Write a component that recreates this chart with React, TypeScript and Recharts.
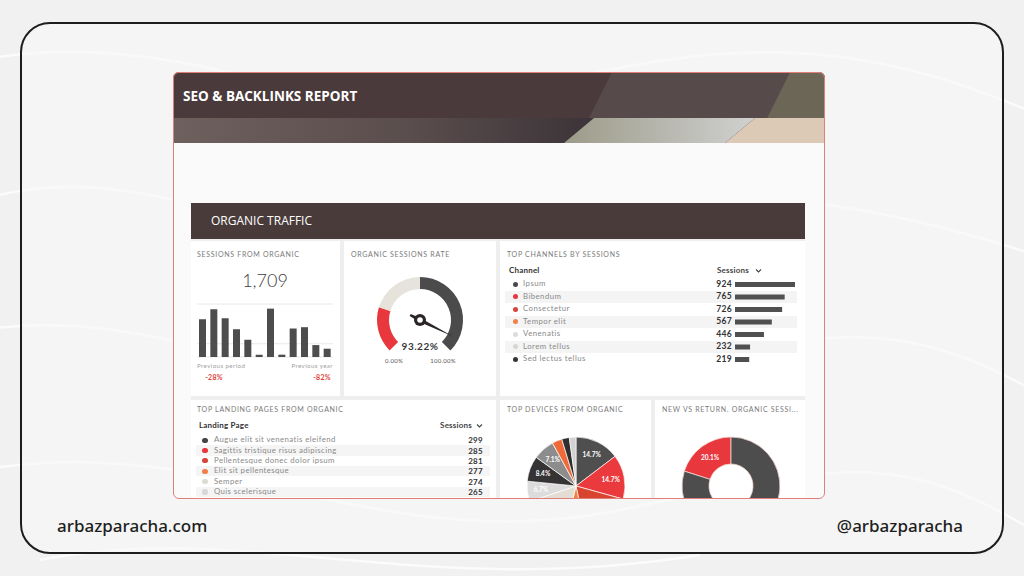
import React from 'react';
import { Bar, BarChart, CartesianGrid, Cell, Pie, PieChart, XAxis, YAxis } from 'recharts';

// sessions from organic, one bar per week
const sessionWeeks = ['W1', 'W2', 'W3', 'W4', 'W5', 'W6', 'W7', 'W8', 'W9', 'W10', 'W11', 'W12'];
const sessionValues = [114, 144, 117, 84, 52, 7, 146, 7, 86, 90, 36, 25];
const sessionTicks = [0, 40, 80, 120, 160];

// gauge
const gaugeBandNames = ['low', 'mid', 'high'];
const gaugeBandValues = [23, 27, 50];
const gaugeBandColors = ['#e8383d', '#e6e2dc', '#4b4b4b'];
const organicRate = 93.22;

// top channels
const channelNames = ['Ipsum', 'Bibendum', 'Consectetur', 'Tempor elit', 'Venenatis', 'Lorem tellus', 'Sed lectus tellus'];
const channelSessions = [924, 765, 726, 567, 446, 232, 219];
const channelColors = ['#4a4a4a', '#e8383d', '#d9443a', '#f08048', '#dcdcdc', '#d6d6d6', '#353535'];

// landing pages
const pageNames = [
  'Augue elit sit venenatis eleifend',
  'Sagittis tristique risus adipiscing',
  'Pellentesque donec dolor ipsum',
  'Elit sit pellentesque',
  'Semper',
  'Quis scelerisque',
];
const pageSessions = [299, 285, 281, 277, 274, 265];
const pageColors = ['#454545', '#e8383d', '#d9443a', '#f08048', '#dcdcd0', '#d8d8d8'];

// devices
const deviceNames = ['Desktop', 'Mobile', 'Tablet', 'Smart TV', 'Console', 'Other A', 'Other B', 'Other C', 'Other D', 'Other E', 'Other F'];
const deviceShares = [14.7, 14.7, 17.5, 7.0, 16.2, 6.7, 8.4, 7.1, 3.3, 2.5, 2.2];
const deviceColors = ['#4f4f4f', '#ea3a3e', '#d9442e', '#f2803a', '#e3ddd3', '#dcdcdc', '#363334', '#8c8c8c', '#ef6a3a', '#2f2f2f', '#d2d2d2'];

// new vs returning
const visitorTypes = ['New', 'Returning'];
const visitorShares = [20.1, 79.9];
const visitorColors = ['#e8383d', '#4d4d4d'];

const RAD = Math.PI / 180;
const FONT = 'Lato, "Open Sans", sans-serif';

type TP = {
  x: number; y: number; size: number; color?: string; weight?: number;
  align?: 'left' | 'right' | 'center'; spacing?: number; font?: string; children: React.ReactNode;
};
function T({ x, y, size, color = '#333', weight = 400, align = 'left', spacing, font = FONT, children }: TP) {
  const s: React.CSSProperties = {
    position: 'absolute', top: y - size, height: size * 2, lineHeight: `${size * 2}px`,
    fontSize: size, color, fontWeight: weight, whiteSpace: 'nowrap', letterSpacing: spacing, fontFamily: font,
  };
  if (align === 'left') s.left = x;
  else if (align === 'right') s.right = 1024 - x;
  else { s.left = x - 200; s.width = 400; s.textAlign = 'center'; }
  return <div style={s}>{children}</div>;
}

const box = (x: number, y: number, w: number, h: number, bg?: string): React.CSSProperties => ({
  position: 'absolute', left: x, top: y, width: w, height: h, background: bg,
});

function Chevron({ x, y }: { x: number; y: number }) {
  return (
    <svg style={box(x, y - 3, 7, 6)} width={7} height={6}>
      <polyline points="1,1.5 3.5,4 6,1.5" fill="none" stroke="#444" strokeWidth={1.1} />
    </svg>
  );
}

const PanelTitle = ({ x, y, children }: { x: number; y: number; children: React.ReactNode }) => (
  <T x={x} y={y} size={7} color="#7a7a7a" spacing={0.7}>{children}</T>
);

const needle = (p: any) => {
  if (p.index !== 0) return null;
  const a = -p.endAngle * RAD;
  const cx = p.cx, cy = p.cy;
  const ux = Math.cos(a), uy = Math.sin(a);
  const nx = -uy, ny = ux;
  const tip = [cx + ux * 37, cy + uy * 37];
  const b1 = [cx + nx * 2, cy + ny * 2];
  const b2 = [cx - nx * 2, cy - ny * 2];
  const t1 = [cx - ux * 11 + nx * 1.1, cy - uy * 11 + ny * 1.1];
  const t2 = [cx - ux * 11 - nx * 1.1, cy - uy * 11 - ny * 1.1];
  return (
    <g>
      <polygon points={`${tip} ${b1} ${t1} ${t2} ${b2}`} fill="#2b2526" />
      <circle cx={cx} cy={cy} r={6} fill="#2b2526" />
      <circle cx={cx} cy={cy} r={2.8} fill="#fff" />
    </g>
  );
};

const sliceLabel = (p: any) => {
  if (p.value < 5) return null;
  const r = p.innerRadius ? (p.innerRadius + p.outerRadius) / 2 : p.outerRadius * 0.72;
  const x = p.cx + r * Math.cos(-p.midAngle * RAD);
  const y = p.cy + r * Math.sin(-p.midAngle * RAD);
  return (
    <text x={x} y={y} fill="#fff" fontSize={6.5} fontWeight={700} fontFamily={FONT} textAnchor="middle" dominantBaseline="central">
      {p.value.toFixed(1)}%
    </text>
  );
};

export default function App() {
  const sessions = sessionWeeks.map((w, i) => ({ week: w, sessions: sessionValues[i] }));
  const bands = gaugeBandNames.map((n, i) => ({ name: n, value: gaugeBandValues[i] }));
  const rate = [{ name: 'rate', value: organicRate }, { name: 'rest', value: 100 - organicRate }];
  const channels = channelNames.map((n, i) => ({ name: n, sessions: channelSessions[i] }));
  const devices = deviceNames.map((n, i) => ({ name: n, value: deviceShares[i] }));
  const visitors = visitorTypes.map((n, i) => ({ name: n, value: visitorShares[i] }));

  const waves = [
    'M -20 60 C 200 20, 320 140, 520 90 S 850 30, 1050 120',
    'M -20 200 C 150 150, 260 260, 430 230 S 760 160, 1050 260',
    'M -20 330 C 180 300, 300 420, 560 380 S 880 300, 1050 400',
    'M -20 470 C 220 430, 380 560, 620 510 S 900 450, 1050 540',
    'M 40 560 C 240 520, 420 600, 700 555',
  ];

  return (
    <div style={{ position: 'absolute', left: 0, top: 0, width: 1024, height: 576, background: '#f1f1f1', overflow: 'hidden', fontFamily: FONT }}>
      <svg style={box(0, 0, 1024, 576)} width={1024} height={576}>
        {waves.map((d, i) => (
          <path key={i} d={d} fill="none" stroke="#fff" strokeWidth={2.5} opacity={0.7} />
        ))}
      </svg>
      <div style={{ ...box(20, 22, 984, 532), border: '2px solid #1d1d1d', borderRadius: 30, boxSizing: 'border-box', background: 'rgba(248,248,248,0.6)' }} />

      {/* dashboard card, clipped */}
      <div style={{ ...box(0, 0, 1024, 576), clipPath: 'inset(72px 199px 77px 173px round 6px)' }}>
        <div style={box(173, 72, 652, 427, '#fafafa')} />
        <svg style={box(0, 0, 1024, 576)} width={1024} height={576}>
          <defs>
            <linearGradient id="strip" x1={173} x2={600} y1={0} y2={0} gradientUnits="userSpaceOnUse">
              <stop offset="0" stopColor="#6e605d" />
              <stop offset="0.55" stopColor="#5a4d4d" />
              <stop offset="1" stopColor="#3b3338" />
            </linearGradient>
            <linearGradient id="light" x1={564} x2={750} y1={0} y2={0} gradientUnits="userSpaceOnUse">
              <stop offset="0" stopColor="#9c9b89" />
              <stop offset="1" stopColor="#cfcfcf" />
            </linearGradient>
          </defs>
          <rect x={173} y={72} width={652} height={46} fill="#4a3a3b" />
          <polygon points="589,118 612,72 790,72 767,118" fill="#564a4b" />
          <polygon points="767,118 790,72 825,72 825,118" fill="#6c6657" />
          <rect x={173} y={118} width={652} height={25} fill="url(#strip)" />
          <polygon points="564,143 594,118 755,118 725,143" fill="url(#light)" />
          <polygon points="725,143 755,118 825,118 825,143" fill="#dccab6" />
        </svg>
        <T x={183} y={96} size={13.5} color="#fff" weight={700} font='"Open Sans", sans-serif'>SEO &amp; BACKLINKS REPORT</T>

        <div style={box(191, 203, 614, 36, '#4a3b3b')} />
        <T x={211} y={221} size={12} color="#fff" font='"Open Sans", sans-serif'>ORGANIC TRAFFIC</T>

        <div style={box(191, 239, 614, 262, '#eeeeee')} />
        <div style={box(191, 241, 149, 155, '#fff')} />
        <div style={box(344, 241, 152, 155, '#fff')} />
        <div style={box(500, 241, 305, 155, '#fff')} />
        <div style={box(191, 400, 305, 110, '#fff')} />
        <div style={box(500, 400, 151, 110, '#fff')} />
        <div style={box(655, 400, 150, 110, '#fff')} />

        {/* sessions from organic */}
        <PanelTitle x={197} y={254}>SESSIONS FROM ORGANIC</PanelTitle>
        <T x={265} y={280} size={18} color="#3d3d3d" weight={300} align="center">1,709</T>
        <div style={box(195, 302, 140, 56)}>
          <BarChart width={140} height={56} data={sessions} margin={{ top: 2, right: 2, bottom: 1, left: 2 }} barSize={7}>
            <CartesianGrid vertical={false} stroke="#e8e8e8" />
            <XAxis dataKey="week" hide />
            <YAxis hide domain={[0, 160]} ticks={sessionTicks} />
            <Bar dataKey="sessions" fill="#4d4d4d" isAnimationActive={false} />
          </BarChart>
        </div>
        <T x={197} y={366} size={6.2} color="#a0a0a0" spacing={0.4}>Previous period</T>
        <T x={333} y={366} size={6.2} color="#a0a0a0" align="right" spacing={0.4}>Previous year</T>
        <T x={214} y={377} size={7} color="#e0443a" weight={700} align="center" spacing={0.3}>-28%</T>
        <T x={322} y={377} size={7} color="#e0443a" weight={700} align="center" spacing={0.3}>-82%</T>

        {/* organic sessions rate */}
        <PanelTitle x={351} y={254}>ORGANIC SESSIONS RATE</PanelTitle>
        <div style={box(360, 265, 120, 110)}>
          <PieChart width={120} height={110} margin={{ top: 0, right: 0, bottom: 0, left: 0 }}>
            <Pie data={bands} dataKey="value" cx={60} cy={55} startAngle={225} endAngle={-45}
              innerRadius={31} outerRadius={43} stroke="none" isAnimationActive={false}>
              {bands.map((b, i) => <Cell key={b.name} fill={gaugeBandColors[i]} />)}
            </Pie>
            <Pie data={rate} dataKey="value" cx={60} cy={55} startAngle={225} endAngle={-45}
              innerRadius={0} outerRadius={1} fill="none" stroke="none" label={needle} labelLine={false}
              isAnimationActive={false} />
          </PieChart>
        </div>
        <T x={420} y={346} size={10} color="#3a3a3a" weight={700} align="center" spacing={0.5}>93.22%</T>
        <T x={394} y={361} size={6} color="#555" align="center" spacing={0.3}>0.00%</T>
        <T x={443} y={361} size={6} color="#555" align="center" spacing={0.3}>100.00%</T>

        {/* top channels */}
        <PanelTitle x={507} y={254}>TOP CHANNELS BY SESSIONS</PanelTitle>
        <T x={509} y={270} size={8} color="#333" weight={700} spacing={0.2}>Channel</T>
        <T x={717} y={270} size={8} color="#444" weight={700} spacing={0.2}>Sessions</T>
        <Chevron x={755} y={271} />
        {channelNames.map((n, i) => {
          const cy = 284.25 + i * 12.5;
          return (
            <React.Fragment key={n}>
              {i % 2 === 1 && <div style={box(505, cy - 6.25, 292, 12.5, '#f4f4f4')} />}
              <div style={{ ...box(512.5, cy - 2.6, 5.2, 5.2, channelColors[i]), borderRadius: '50%' }} />
              <T x={523} y={cy} size={7.8} color="#8a8a8a" spacing={0.45}>{n}</T>
              <T x={732} y={cy} size={8.5} color="#333" weight={700} align="right" spacing={0.3}>{channelSessions[i]}</T>
            </React.Fragment>
          );
        })}
        <div style={box(735, 278, 60, 87.5)}>
          <BarChart width={60} height={87.5} data={channels} layout="vertical" margin={{ top: 0, right: 0, bottom: 0, left: 0 }} barSize={5}>
            <XAxis type="number" hide domain={[0, 924]} />
            <YAxis type="category" dataKey="name" hide />
            <Bar dataKey="sessions" fill="#505050" isAnimationActive={false} />
          </BarChart>
        </div>

        {/* landing pages */}
        <PanelTitle x={197} y={409}>TOP LANDING PAGES FROM ORGANIC</PanelTitle>
        <T x={199} y={425} size={8} color="#333" weight={700} spacing={0.2}>Landing Page</T>
        <T x={472} y={425} size={8} color="#444" weight={700} align="right" spacing={0.2}>Sessions</T>
        <Chevron x={476} y={426} />
        {pageNames.map((n, i) => {
          const cy = 440.2 + i * 10.35;
          return (
            <React.Fragment key={n}>
              {i % 2 === 1 && <div style={box(196, cy - 5.2, 294, 10.4, '#f5f5f5')} />}
              <div style={{ ...box(202.4, cy - 2.6, 5.2, 5.2, pageColors[i]), borderRadius: '50%' }} />
              <T x={214} y={cy} size={7.8} color="#8a8a8a" spacing={0.4}>{n}</T>
              <T x={483} y={cy} size={8} color="#333" weight={700} align="right" spacing={0.3}>{pageSessions[i]}</T>
            </React.Fragment>
          );
        })}

        {/* devices */}
        <PanelTitle x={507} y={409}>TOP DEVICES FROM ORGANIC</PanelTitle>
        <div style={box(501, 431, 150, 110)}>
          <PieChart width={150} height={110} margin={{ top: 0, right: 0, bottom: 0, left: 0 }}>
            <Pie data={devices} dataKey="value" cx={75} cy={55} startAngle={90} endAngle={-270}
              outerRadius={49} stroke="#fff" strokeWidth={0.7} label={sliceLabel} labelLine={false}
              isAnimationActive={false}>
              {devices.map((d, i) => <Cell key={d.name} fill={deviceColors[i]} />)}
            </Pie>
          </PieChart>
        </div>

        {/* new vs returning */}
        <PanelTitle x={662} y={409}>NEW VS RETURN. ORGANIC SESSI...</PanelTitle>
        <div style={box(656, 431, 150, 110)}>
          <PieChart width={150} height={110} margin={{ top: 0, right: 0, bottom: 0, left: 0 }}>
            <Pie data={visitors} dataKey="value" cx={75} cy={55} startAngle={90} endAngle={450}
              innerRadius={22} outerRadius={49} stroke="#f3d6cf" strokeWidth={0.8} label={sliceLabel} labelLine={false}
              isAnimationActive={false}>
              {visitors.map((d, i) => <Cell key={d.name} fill={visitorColors[i]} />)}
            </Pie>
          </PieChart>
        </div>
      </div>
      <div style={{ ...box(173, 72, 652, 427), border: '1.5px solid #e07f78', borderRadius: 6, boxSizing: 'border-box' }} />

      <T x={57} y={526} size={17} color="#1e1e1e" weight={500} font='"Noto Sans", sans-serif'>arbazparacha.com</T>
      <T x={963} y={526} size={17} color="#1e1e1e" weight={500} font='"Noto Sans", sans-serif' align="right">@arbazparacha</T>
    </div>
  );
}
